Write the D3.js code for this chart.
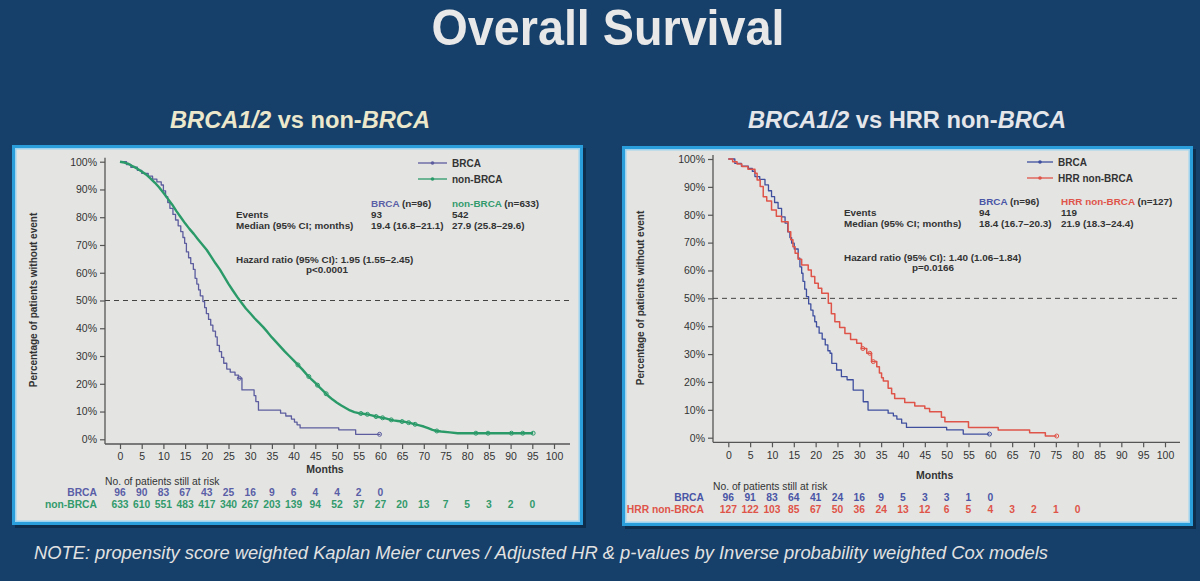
<!DOCTYPE html>
<html><head><meta charset="utf-8">
<script src="https://cdn.jsdelivr.net/npm/d3@7"></script>
<style>html,body{margin:0;padding:0;background:#163f69;}svg{display:block;}</style>
</head><body>
<svg id="c" width="1200" height="581"></svg>
<script>
// ---------- DATA ----------
const monthTicks = d3.range(0, 101, 5);
const pctTicks = d3.range(0, 101, 10);

// Left panel: BRCA vs non-BRCA  [month, % surviving]
const leftBRCA = [[0,100],[1.5,99],[2.5,98],[4,96.9],[5,95.8],[6.5,94.8],[7.5,93.7],[8.5,92.7],[9.5,91.6],[10,89.5],[10.5,87.4],[11,85.3],[11.5,83.2],[12.2,81],[12.8,79],[13.4,76.9],[14,74.8],[14.5,72.7],[14.9,70.6],[15.3,67.5],[15.8,65.4],[16.3,63.3],[16.9,61.2],[17.3,58],[17.7,55.9],[18.1,53.8],[18.5,51.7],[19.1,49.6],[19.5,47.4],[19.9,45.3],[20.4,43.2],[20.9,41.1],[21.4,39],[22,36.9],[22.4,33.8],[22.9,31.6],[23.4,29.5],[23.9,27.4],[24.6,25.3],[25.4,24.2],[26.5,23.1],[27.3,22],[28.1,17.8],[30.9,15.7],[31.3,13.6],[31.9,10.5],[37,9.4],[38.2,8.4],[39.5,7.3],[40.2,6.2],[40.8,5.2],[41.5,4.1],[50.4,3.4],[54.3,1.8],[60,1.8]];
const leftBRCACens = [27.5, 59.8];
const leftNon = [[0,100],[1,99.7],[2,99.2],[3,98.3],[4,97.5],[5,96.5],[6,95.4],[7,94],[8,92.5],[9,90.8],[10,88.8],[11,86.7],[12,84.6],[13,82.2],[14,80],[15,77.8],[16,75.8],[17,74],[18,72],[19,70.1],[20,68.2],[21,65.8],[22,63.4],[23,61.2],[24,58.6],[25,56],[26,53.6],[27,51.3],[28,49.2],[29,47.1],[30,45.4],[31,43.6],[32,42],[33,40.4],[34,38.6],[35,36.7],[36,35],[37,33.3],[38,31.6],[39,30],[40,28.4],[41,26.8],[42,25.2],[43,23.4],[44,21.8],[45,20.3],[46,18.7],[47,17.2],[48,15.6],[49,14.3],[50,13.2],[51,12.2],[52,11.3],[53,10.4],[54,9.8],[55,9.4],[56,9.2],[57,9],[58,8.6],[59,8.2],[60,7.9],[61,7.6],[62,7.2],[63,6.8],[64,6.6],[65,6.4],[66,6.2],[67,5.8],[68,5.4],[69,5],[70,4.6],[71,4],[72,3.4],[73,3],[74,2.8],[76,2.5],[77.8,2.2],[95.2,2.2]];
const leftNonCens = [41, 43.5, 45.5, 47.5, 55.5, 57, 59, 60.5, 62.5, 65, 66.5, 68, 73, 82, 84.8, 90.2, 92.8, 95.2];
const leftRiskBRCA = [96, 90, 83, 67, 43, 25, 16, 9, 6, 4, 4, 2, 0];
const leftRiskNon = [633, 610, 551, 483, 417, 340, 267, 203, 139, 94, 52, 37, 27, 20, 13, 7, 5, 3, 2, 0];

// Right panel: BRCA vs HRR non-BRCA
const rightBRCA = [[0,100],[1.5,98.4],[3,97.4],[4.6,96.6],[5.5,95.6],[6.1,93.7],[7.2,92.7],[8.4,90.7],[9.2,88.6],[9.9,86.5],[10.6,84.4],[11.4,82.3],[12.2,79.2],[13,77],[13.6,73.9],[14.1,71.8],[14.5,69.8],[15.1,67.7],[16,64.4],[16.4,61.3],[16.8,59],[17.1,56.1],[17.5,53.3],[17.9,50.6],[18.4,48],[18.9,45.8],[19.4,43.7],[19.8,41.6],[20.2,39.8],[20.8,37.5],[21.5,35.4],[22.2,33.3],[22.8,31.2],[23.3,30.3],[23.7,26.7],[24.8,24.3],[25.9,21.9],[27.2,20.8],[28.6,17.1],[30.9,12.9],[32,9.9],[36.6,8.8],[37.8,7.8],[38.6,6.7],[39.7,5.2],[40.8,3.7],[50,2.8],[53.8,1.3],[59.8,1.3]];
const rightBRCACens = [59.8];
const rightHRR = [[0,100],[1,99],[2,98.2],[3.1,97.3],[4.5,96.3],[6.1,94.9],[6.6,92.5],[7.3,90.1],[8,86.5],[8.8,84.9],[9.9,81.7],[11,79.5],[12.2,77.5],[13.7,73.9],[14.3,71],[14.8,68.5],[15.3,66.2],[16,64],[16.8,62],[18.3,60.2],[19,57.8],[19.8,55.4],[20.6,53.6],[21.4,51.8],[22.9,48.2],[23.6,44.5],[24.4,41.6],[25.5,39.5],[26.7,37.4],[28,35.2],[29.4,33.9],[30.5,32],[31.7,30.3],[32.8,27.3],[34,25.5],[34.6,23.2],[35.1,21.5],[35.5,20.3],[36.6,17.7],[37.4,15.8],[38.1,14.1],[40.4,12.6],[42.7,11.4],[45,10.5],[46.1,9.3],[48.8,7.3],[49.6,5.7],[55,3.7],[61.8,2.8],[69,1.8],[72.6,0.6],[75.2,0.6]];
const rightHRRCens = [30.8, 32.4, 33.2, 75.2];
const rightRiskBRCA = [96, 91, 83, 64, 41, 24, 16, 9, 5, 3, 3, 1, 0];
const rightRiskHRR = [127, 122, 103, 85, 67, 50, 36, 24, 13, 12, 6, 5, 4, 3, 2, 1, 0];

// ---------- DRAW ----------
const svg = d3.select("#c");
const FONT = "'Liberation Sans', Arial, sans-serif";
const DARK = "#333";

svg.append("rect").attr("width",1200).attr("height",581).attr("fill","#163f69");

// Title
svg.append("text").attr("x",608).attr("y",45).attr("text-anchor","middle")
  .attr("font-family",FONT).attr("font-weight","bold").attr("font-size",50)
  .attr("fill","#e8e8e8").attr("textLength",353).attr("lengthAdjust","spacingAndGlyphs")
  .text("Overall Survival");

function subtitle(x, len, color, parts){
  const t = svg.append("text").attr("x",x).attr("y",128)
    .attr("font-family",FONT).attr("font-weight","bold").attr("font-size",23)
    .attr("fill",color).attr("textLength",len).attr("lengthAdjust","spacingAndGlyphs");
  parts.forEach(p=>t.append("tspan").attr("font-style",p[1]?"italic":"normal").text(p[0]));
}
subtitle(170, 260, "#ece8cc", [["BRCA1/2",true],[" vs non-",false],["BRCA",true]]);
subtitle(748, 318, "#e4e6ea", [["BRCA1/2",true],[" vs HRR non-",false],["BRCA",true]]);

// Note
svg.append("text").attr("x",34).attr("y",559)
  .attr("font-family",FONT).attr("font-style","italic").attr("font-size",18)
  .attr("fill","#e2e2e2").attr("textLength",1014).attr("lengthAdjust","spacingAndGlyphs")
  .text("NOTE: propensity score weighted Kaplan Meier curves / Adjusted HR & p-values by Inverse probability weighted Cox models");

function panel(cfg){
  const g = svg.append("g");
  // frame
  g.append("rect").attr("x",cfg.box[0]+3).attr("y",cfg.box[1]+3).attr("width",cfg.box[2]).attr("height",cfg.box[3]).attr("fill","#0e2c4c");
  g.append("rect").attr("x",cfg.box[0]).attr("y",cfg.box[1]).attr("width",cfg.box[2]).attr("height",cfg.box[3]).attr("fill","#2a9ddb");
  g.append("rect").attr("x",cfg.box[0]+3).attr("y",cfg.box[1]+3).attr("width",cfg.box[2]-6).attr("height",cfg.box[3]-6).attr("fill","#9fd3ef");
  g.append("rect").attr("x",cfg.box[0]+4.5).attr("y",cfg.box[1]+4.5).attr("width",cfg.box[2]-9).attr("height",cfg.box[3]-9).attr("fill","#e4e5e3");

  const x = d3.scaleLinear().domain([0,100]).range(cfg.xr);
  const y = d3.scaleLinear().domain([0,100]).range(cfg.yr);

  // x axis
  const xa = g.append("g").attr("transform",`translate(0,${cfg.xAxisY})`)
    .call(d3.axisBottom(x).tickValues(monthTicks).tickSize(5).tickSizeOuter(0).tickPadding(4));
  xa.select(".domain").remove();
  xa.append("line").attr("x1",cfg.yAxisX).attr("x2",cfg.xEnd).attr("y1",0).attr("y2",0).attr("stroke","#555").attr("stroke-width",1.3);
  xa.selectAll(".tick line").attr("stroke","#555").attr("stroke-width",1.2);
  xa.selectAll(".tick text").attr("font-family",FONT).attr("font-size",10.5).attr("fill",DARK);

  // y axis
  const ya = g.append("g").attr("transform",`translate(${cfg.yAxisX},0)`)
    .call(d3.axisLeft(y).tickValues(pctTicks).tickFormat(d=>d+"%").tickSize(5).tickSizeOuter(0).tickPadding(3));
  ya.select(".domain").remove();
  ya.append("line").attr("x1",0).attr("x2",0).attr("y1",y(100)-4).attr("y2",cfg.xAxisY).attr("stroke","#555").attr("stroke-width",1.3);
  ya.selectAll(".tick line").attr("stroke","#555").attr("stroke-width",1.2);
  ya.selectAll(".tick text").attr("font-family",FONT).attr("font-size",10.5).attr("fill",DARK);

  // axis titles
  g.append("text").attr("transform",`translate(${cfg.yTitleX},${cfg.yTitleY}) rotate(-90)`)
    .attr("text-anchor","middle").attr("font-family",FONT).attr("font-weight","bold").attr("font-size",10)
    .attr("fill",DARK).text("Percentage of patients without event");
  g.append("text").attr("x",x(50)-12).attr("y",cfg.monthsY).attr("text-anchor","middle")
    .attr("font-family",FONT).attr("font-weight","bold").attr("font-size",10.5).attr("fill",DARK).text("Months");

  // 50% reference
  g.append("line").attr("x1",cfg.yAxisX).attr("x2",cfg.xEnd).attr("y1",y(50)).attr("y2",y(50))
    .attr("stroke","#444").attr("stroke-width",1).attr("stroke-dasharray","5,4");

  // curves
  cfg.series.forEach(s=>{
    const line = d3.line().x(d=>x(d[0])).y(d=>y(d[1])).curve(s.smooth ? d3.curveLinear : d3.curveStepAfter);
    g.append("path").datum(s.data).attr("d",line).attr("fill","none")
      .attr("stroke",s.color).attr("stroke-width",s.w).attr("stroke-linejoin","round");
    // marker y: read along the drawn path
    const valAt = m => {
      const i = d3.bisector(d=>d[0]).right(s.data, m) - 1;
      const a = s.data[Math.max(0,i)], b = s.data[Math.min(s.data.length-1,i+1)];
      if (!s.smooth || a===b) return a[1];
      return a[1] + (b[1]-a[1])*(m-a[0])/(b[0]-a[0]);
    };
    g.selectAll(null).data(s.cens).enter().append("circle")
      .attr("cx",d=>x(d)).attr("cy",d=>y(valAt(d))).attr("r",2)
      .attr("fill","none").attr("stroke",s.color).attr("stroke-width",1);
  });

  // legend
  cfg.series.forEach((s,i)=>{
    const ly = cfg.legY + i*16;
    g.append("line").attr("x1",cfg.legX).attr("x2",cfg.legX+cfg.legW).attr("y1",ly).attr("y2",ly)
      .attr("stroke",s.color).attr("stroke-width",1.3);
    g.append("circle").attr("cx",cfg.legX+cfg.legW/2).attr("cy",ly).attr("r",1.8).attr("fill",s.color);
    g.append("text").attr("x",cfg.legX+cfg.legW+5).attr("y",ly+3.5).attr("font-family",FONT)
      .attr("font-weight","bold").attr("font-size",10).attr("fill",DARK).text(s.name);
  });

  // stats block
  const st = (tx,ty,parts)=>{
    const t = g.append("text").attr("x",tx).attr("y",ty+3.5).attr("font-family",FONT)
      .attr("font-weight","bold").attr("font-size",9.9).attr("fill",DARK);
    parts.forEach(p=>t.append("tspan").attr("fill",p[1]||DARK).text(p[0]));
  };
  const S = cfg.stats;
  st(S.c1, S.y0, [[cfg.series[0].name, cfg.series[0].txt],[" (n="+S.n[0]+")"]]);
  st(S.c2, S.y0, [[cfg.series[1].name, cfg.series[1].txt],[" (n="+S.n[1]+")"]]);
  st(S.lx, S.y0+11, [["Events"]]);
  st(S.c1, S.y0+11, [[S.events[0]]]);
  st(S.c2, S.y0+11, [[S.events[1]]]);
  st(S.lx, S.y0+22, [["Median (95% CI; months)"]]);
  st(S.c1, S.y0+22, [[S.median[0]]]);
  st(S.c2, S.y0+22, [[S.median[1]]]);
  st(S.lx, S.hrY, [[S.hr]]);
  st(S.px, S.hrY+10.5, [[S.p]]);

  // risk table
  g.append("text").attr("x",cfg.yAxisX).attr("y",cfg.riskY).attr("font-family",FONT)
    .attr("font-size",10.3).attr("fill",DARK).text("No. of patients still at risk");
  cfg.series.forEach((s,i)=>{
    const ry = cfg.riskY + cfg.riskDy*(i+1);
    g.append("text").attr("x",cfg.riskLabelX).attr("y",ry).attr("text-anchor","end")
      .attr("font-family",FONT).attr("font-weight","bold").attr("font-size",10.3)
      .attr("fill",s.txt).text(s.name);
    g.selectAll(null).data(s.risk).enter().append("text")
      .attr("x",(d,j)=>x(monthTicks[j])).attr("y",ry).attr("text-anchor","middle")
      .attr("font-family",FONT).attr("font-weight","bold").attr("font-size",10.3)
      .attr("fill",s.txt).text(d=>d);
  });
}

panel({
  box:[12,145,571,380],
  xr:[120,554], yr:[439.3,161.7], xAxisY:444, yAxisX:105, xEnd:570,
  yTitleX:37, yTitleY:300, monthsY:473,
  legX:418, legW:29, legY:163,
  riskY:484.5, riskDy:11.7, riskLabelX:97,
  stats:{c1:371, c2:452, lx:236, y0:203, n:[96,633], events:["93","542"],
    median:["19.4 (16.8–21.1)","27.9 (25.8–29.6)"],
    hr:"Hazard ratio (95% CI): 1.95 (1.55–2.45)", hrY:259, px:306, p:"p<0.0001"},
  series:[
    {name:"BRCA", color:"#5c5c9e", txt:"#5a5ea6", w:1.3, data:leftBRCA, cens:leftBRCACens, risk:leftRiskBRCA},
    {name:"non-BRCA", color:"#2b9a69", txt:"#329a6c", w:2.4, smooth:true, data:leftNon, cens:leftNonCens, risk:leftRiskNon}
  ]
});

panel({
  box:[622,146,571,380],
  xr:[728.3,1165], yr:[437.7,159], xAxisY:442.3, yAxisX:713, xEnd:1180,
  yTitleX:644, yTitleY:298, monthsY:479,
  legX:1027, legW:26, legY:162,
  riskY:489.5, riskDy:11.5, riskLabelX:704,
  stats:{c1:979, c2:1061, lx:844, y0:201, n:[96,127], events:["94","119"],
    median:["18.4 (16.7–20.3)","21.9 (18.3–24.4)"],
    hr:"Hazard ratio (95% CI): 1.40 (1.06–1.84)", hrY:257, px:912, p:"p=0.0166"},
  series:[
    {name:"BRCA", color:"#3f4f9e", txt:"#4a55a6", w:1.3, data:rightBRCA, cens:rightBRCACens, risk:rightRiskBRCA},
    {name:"HRR non-BRCA", color:"#df5449", txt:"#df5449", w:1.5, data:rightHRR, cens:rightHRRCens, risk:rightRiskHRR}
  ]
});
</script>
</body></html>
